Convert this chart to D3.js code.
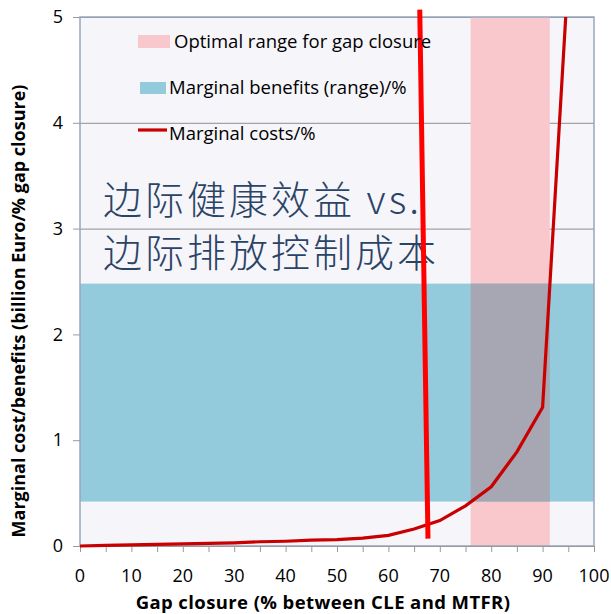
<!DOCTYPE html>
<html>
<head>
<meta charset="utf-8">
<script src="https://cdn.jsdelivr.net/npm/d3@7"></script>
<style>
  body { margin: 0; background: #fff; }
  svg { display: block; font-family: "Open Sans", sans-serif; }
</style>
</head>
<body>
<div id="chart"></div>
<script>
;(function () {
    // gap closure (%) and marginal costs (billion Euro / % gap closure)
    const gapClosure = [0, 5, 10, 15, 20, 25, 30, 35, 40, 45, 50, 55, 60, 65, 70, 75, 80, 85, 90, 94.5]
    const marginalCost = [0, 0.005, 0.01, 0.015, 0.02, 0.025, 0.03, 0.04, 0.045, 0.055, 0.06, 0.075, 0.1, 0.16, 0.24, 0.38, 0.56, 0.89, 1.31, 5]

    // marginal benefits range (y) and optimal range (x)
    const benefitRange = [0.42, 2.48]
    const optimalRange = [76, 91.4]

    // the thick red marker line
    const markerX = [66.1, 67.7]
    const markerY = [5.07, 0.07]

    const xTicks = [0, 10, 20, 30, 40, 50, 60, 70, 80, 90, 100]
    const xMinorTicks = [0, 5, 10, 15, 20, 25, 30, 35, 40, 45, 50, 55, 60, 65, 70, 75, 80, 85, 90, 95, 100]
    const yTicks = [0, 1, 2, 3, 4, 5]

    const legendItems = [
        { label: "Optimal range for gap closure", type: "pink" },
        { label: "Marginal benefits (range)/%", type: "blue" },
        { label: "Marginal costs/%", type: "line" }
    ]
    const titleLines = ["边际健康效益 vs.", "边际排放控制成本"]

    const width = 611
    const height = 614
    const margin = { top: 17, right: 17, bottom: 68, left: 80 }

    const svg = d3.select("#chart")
        .append("svg")
        .attr("width", width)
        .attr("height", height)

    const x = d3.scaleLinear().domain([0, 100]).range([margin.left, width - margin.right])
    const y = d3.scaleLinear().domain([0, 5]).range([height - margin.bottom, margin.top])

    // plot background
    svg.append("rect")
        .attr("x", x(0))
        .attr("y", y(5))
        .attr("width", x(100) - x(0))
        .attr("height", y(0) - y(5))
        .attr("fill", "#f6f5fa")

    // gridlines
    svg.append("g")
        .attr("transform", `translate(${x(0)},0)`)
        .call(d3.axisLeft(y).tickValues(yTicks).tickSize(-(x(100) - x(0))).tickFormat(""))
        .call(g => g.select(".domain").remove())
        .call(g => g.selectAll("line").attr("stroke", "#8f8f8f"))

    // pink optimal range
    svg.append("rect")
        .attr("x", x(optimalRange[0]))
        .attr("y", y(5))
        .attr("width", x(optimalRange[1]) - x(optimalRange[0]))
        .attr("height", y(0) - y(5))
        .attr("fill", "#f8c8cc")

    // blue benefits range
    svg.append("rect")
        .attr("x", x(0))
        .attr("y", y(benefitRange[1]))
        .attr("width", x(100) - x(0))
        .attr("height", y(benefitRange[0]) - y(benefitRange[1]))
        .attr("fill", "#93cbdc")

    // overlap
    svg.append("rect")
        .attr("x", x(optimalRange[0]))
        .attr("y", y(benefitRange[1]))
        .attr("width", x(optimalRange[1]) - x(optimalRange[0]))
        .attr("height", y(benefitRange[0]) - y(benefitRange[1]))
        .attr("fill", "#a7a6b3")

    // plot border
    svg.append("rect")
        .attr("x", x(0))
        .attr("y", y(5))
        .attr("width", x(100) - x(0))
        .attr("height", y(0) - y(5))
        .attr("fill", "none")
        .attr("stroke", "#98a6bd")
        .attr("stroke-width", 1.5)

    // y axis
    const yAxis = svg.append("g")
        .attr("transform", `translate(${x(0)},0)`)
        .call(d3.axisLeft(y).tickValues(yTicks).tickSize(7).tickPadding(10).tickFormat(d3.format("d")))
    yAxis.select(".domain").remove()
    yAxis.selectAll("line").attr("stroke", "#999")
    yAxis.selectAll("text")
        .attr("font-size", 18)
        .attr("font-family", "'Open Sans', sans-serif")
        .attr("fill", "#000")

    // x axis
    const xAxis = svg.append("g")
        .attr("transform", `translate(0,${y(0)})`)
        .call(d3.axisBottom(x).tickValues(xMinorTicks).tickSize(6).tickFormat(""))
    xAxis.select(".domain").attr("stroke", "#999")
    xAxis.selectAll("line").attr("stroke", "#999")

    svg.append("g")
        .selectAll("text")
        .data(xTicks)
        .join("text")
        .attr("x", d => x(d))
        .attr("y", y(0) + 36)
        .attr("text-anchor", "middle")
        .attr("font-size", 18)
        .text(d => d)

    // chinese title
    svg.append("g")
        .selectAll("text")
        .data(titleLines)
        .join("text")
        .attr("x", 103)
        .attr("y", (d, i) => 214 + i * 53)
        .attr("font-family", "'Noto Sans CJK SC', sans-serif")
        .attr("font-weight", 300)
        .attr("font-size", 39)
        .attr("letter-spacing", 3)
        .attr("fill", "#2a4466")
        .text(d => d)

    // marginal cost curve
    const costLine = d3.line()
        .x(d => x(d[0]))
        .y(d => y(d[1]))

    svg.append("path")
        .datum(d3.zip(gapClosure, marginalCost))
        .attr("d", costLine)
        .attr("fill", "none")
        .attr("stroke", "#c80000")
        .attr("stroke-width", 3.2)
        .attr("stroke-linejoin", "miter")

    // thick red marker line
    svg.append("path")
        .datum(d3.zip(markerX, markerY))
        .attr("d", costLine)
        .attr("fill", "none")
        .attr("stroke", "#ff0000")
        .attr("stroke-width", 5)

    // legend
    const legend = svg.append("g")
    legendItems.forEach(function (item, i) {
        const ly = 42 + i * 46
        if (item.type === "pink") {
            legend.append("rect").attr("x", 138).attr("y", ly - 7).attr("width", 32).attr("height", 13).attr("fill", "#f8c8cc")
        } else if (item.type === "blue") {
            legend.append("rect").attr("x", 140).attr("y", ly - 6).attr("width", 26).attr("height", 12).attr("fill", "#93cbdc")
        } else {
            legend.append("line").attr("x1", 138).attr("x2", 167).attr("y1", ly - 4).attr("y2", ly - 4)
                .attr("stroke", "#c80000").attr("stroke-width", 3.2)
        }
        legend.append("text")
            .attr("x", item.type === "pink" ? 174 : 169)
            .attr("y", ly + 6)
            .attr("font-size", 18.5)
            .attr("fill", "#000")
            .text(item.label)
    })

    // axis titles
    svg.append("text")
        .attr("x", 323)
        .attr("y", 609)
        .attr("text-anchor", "middle")
        .attr("font-weight", "bold")
        .attr("font-size", 18.5)
        .attr("letter-spacing", 0.4)
        .text("Gap closure (% between CLE and MTFR)")

    svg.append("text")
        .attr("transform", "translate(25,311) rotate(-90)")
        .attr("text-anchor", "middle")
        .attr("font-weight", "bold")
        .attr("font-size", 18)
        .text("Marginal cost/benefits (billion Euro/% gap closure)")
})()
</script>
</body>
</html>
